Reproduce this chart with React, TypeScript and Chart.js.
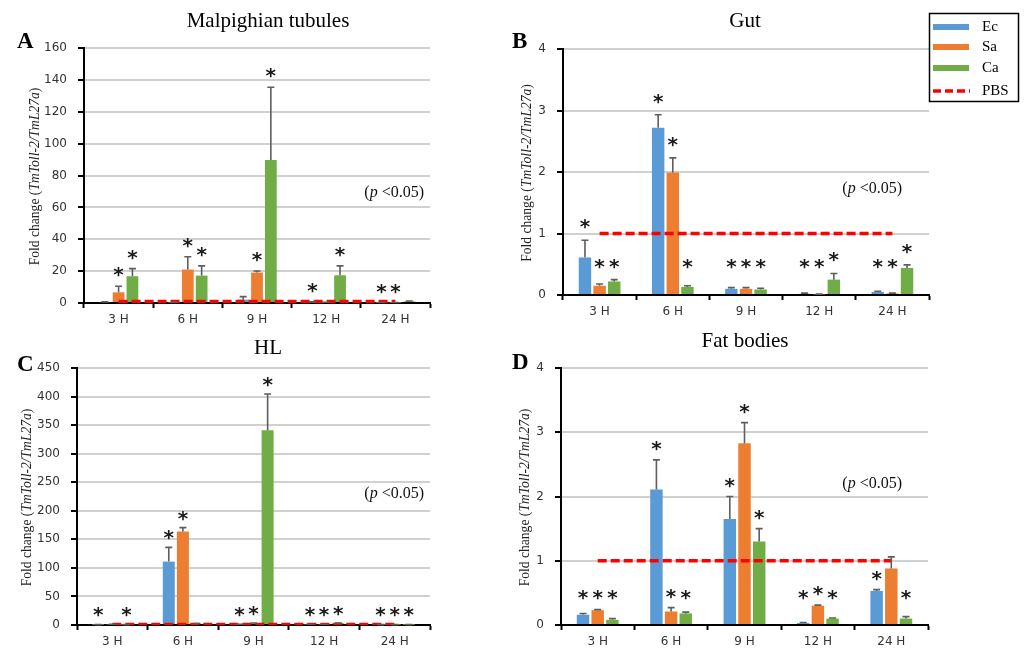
import React, { useEffect, useRef } from 'react';
import { Chart, registerables } from 'chart.js';

Chart.register(...registerables);

// ---------- data ----------
const categories = ['3 H', '6 H', '9 H', '12 H', '24 H'];
const seriesNames = ['Ec', 'Sa', 'Ca'];
const controlName = 'PBS';
const controlLevel = [1, 1, 1, 1, 1];

// A: Malpighian tubules
const mtEc = [0.5, 0.3, 2.1, 0.5, 0.2];
const mtEcErr = [0.2, 0.1, 1.9, 0.2, 0.1];
const mtEcSig = [0, 0, 0, 1, 1];
const mtSa = [6.7, 21, 19.1, 0.4, 0.2];
const mtSaErr = [3.8, 8, 1.0, 0.1, 0.1];
const mtSaSig = [1, 1, 1, 0, 1];
const mtCa = [16.8, 17.2, 89.7, 17.4, 1.0];
const mtCaErr = [4.8, 6.1, 45.7, 5.9, 0.3];
const mtCaSig = [1, 1, 1, 1, 0];

// B: Gut
const gutEc = [0.61, 2.72, 0.1, 0.02, 0.05];
const gutEcErr = [0.28, 0.21, 0.02, 0.01, 0.01];
const gutEcSig = [1, 1, 1, 1, 1];
const gutSa = [0.15, 1.99, 0.1, 0.01, 0.025];
const gutSaErr = [0.03, 0.24, 0.02, 0.005, 0.005];
const gutSaSig = [1, 1, 1, 1, 1];
const gutCa = [0.22, 0.13, 0.09, 0.25, 0.44];
const gutCaErr = [0.03, 0.02, 0.02, 0.1, 0.05];
const gutCaSig = [1, 1, 1, 1, 1];

// C: HL
const hlEc = [0.5, 111, 1, 1, 0.5];
const hlEcErr = [0.2, 25, 0.3, 0.3, 0.2];
const hlEcSig = [1, 1, 1, 1, 1];
const hlSa = [1, 163.5, 3, 1, 0.5];
const hlSaErr = [0.3, 7, 0.5, 0.3, 0.2];
const hlSaSig = [0, 1, 1, 1, 1];
const hlCa = [0.5, 2, 341, 3, 0.5];
const hlCaErr = [0.2, 0.5, 63.5, 0.5, 0.2];
const hlCaSig = [1, 0, 1, 1, 1];

// D: Fat bodies
const fbEc = [0.16, 2.11, 1.65, 0.03, 0.53];
const fbEcErr = [0.02, 0.46, 0.35, 0.01, 0.02];
const fbEcSig = [1, 1, 1, 1, 1];
const fbSa = [0.23, 0.21, 2.83, 0.3, 0.88];
const fbSaErr = [0.01, 0.06, 0.32, 0.01, 0.18];
const fbSaSig = [1, 1, 1, 1, 0];
const fbCa = [0.08, 0.18, 1.3, 0.1, 0.1];
const fbCaErr = [0.02, 0.02, 0.2, 0.01, 0.03];
const fbCaSig = [1, 1, 1, 1, 1];

const yTitleParts = [
  { text: 'Fold change (', italic: false },
  { text: 'TmToll-2/TmL27a', italic: true },
  { text: ')', italic: false },
];

// ---------- styles ----------
const COLORS = ['#5B9BD5', '#ED7D31', '#70AD47'];
const RED = '#FF0000';
const SERIF = '"Liberation Serif", "Times New Roman", serif';
const SANS = '"DejaVu Sans", sans-serif';
const W = 512;
const H = 326;
const XH = 23;

const panels = [
  {
    letter: 'A', title: 'Malpighian tubules', left: 0, top: 0,
    area: { l: 84, t: 48, r: 430, b: 303 }, yMax: 160, yStep: 20,
    series: [[mtEc, mtEcErr, mtEcSig], [mtSa, mtSaErr, mtSaSig], [mtCa, mtCaErr, mtCaSig]],
    yTitleX: 35, letterPos: { x: 17, y: 48 }, titlePos: { x: 268, y: 27 }, notePos: { x: 424, y: 197 },
    starGap: 14, starMin: 12, legend: false,
  },
  {
    letter: 'B', title: 'Gut', left: 512, top: 0,
    area: { l: 51, t: 49, r: 417, b: 295 }, yMax: 4, yStep: 1,
    series: [[gutEc, gutEcErr, gutEcSig], [gutSa, gutSaErr, gutSaSig], [gutCa, gutCaErr, gutCaSig]],
    yTitleX: 15, letterPos: { x: 0, y: 48 }, titlePos: { x: 233, y: 27 }, notePos: { x: 390, y: 193 },
    starGap: 16, starMin: 31, legend: true,
  },
  {
    letter: 'C', title: 'HL', left: 0, top: 326,
    area: { l: 77, t: 42, r: 430, b: 299 }, yMax: 450, yStep: 50,
    series: [[hlEc, hlEcErr, hlEcSig], [hlSa, hlSaErr, hlSaSig], [hlCa, hlCaErr, hlCaSig]],
    yTitleX: 27, letterPos: { x: 17, y: 45 }, titlePos: { x: 268, y: 28 }, notePos: { x: 424, y: 172 },
    starGap: 12, starMin: 13, legend: false,
  },
  {
    letter: 'D', title: 'Fat bodies', left: 512, top: 326,
    area: { l: 49, t: 42, r: 416, b: 299 }, yMax: 4, yStep: 1,
    series: [[fbEc, fbEcErr, fbEcSig], [fbSa, fbSaErr, fbSaSig], [fbCa, fbCaErr, fbCaSig]],
    yTitleX: 13, letterPos: { x: 0, y: 43 }, titlePos: { x: 233, y: 21 }, notePos: { x: 390, y: 162 },
    starGap: 14, starMin: 30, legend: false,
  },
];

function drawSegments(ctx: CanvasRenderingContext2D, parts: any[], size: number, x: number, y: number, align: 'center' | 'right') {
  const fontFor = (p: any) => `${p.italic ? 'italic ' : ''}${size}px ${SERIF}`;
  let total = 0;
  const widths = parts.map((p) => {
    ctx.font = fontFor(p);
    const w = ctx.measureText(p.text).width;
    total += w;
    return w;
  });
  let pos = align === 'center' ? x - total / 2 : x - total;
  ctx.textAlign = 'left';
  parts.forEach((p, i) => {
    ctx.font = fontFor(p);
    ctx.fillText(p.text, pos, y);
    pos += widths[i];
  });
}

function makeOverlay(cfg: any) {
  return {
    id: 'overlay' + cfg.letter,
    afterDatasetsDraw(chart: any) {
      const ctx: CanvasRenderingContext2D = chart.ctx;
      const ys = chart.scales.y;
      const zero = ys.getPixelForValue(0);
      ctx.save();
      // error bars
      chart.data.datasets.forEach((ds: any, i: number) => {
        if (!ds.errors) return;
        const meta = chart.getDatasetMeta(i);
        meta.data.forEach((bar: any, j: number) => {
          const v = ds.data[j];
          const top = ys.getPixelForValue(v + ds.errors[j]);
          ctx.strokeStyle = '#5e5e5e';
          ctx.lineWidth = 1.6;
          ctx.beginPath();
          ctx.moveTo(bar.x, bar.y);
          ctx.lineTo(bar.x, top);
          ctx.moveTo(bar.x - 3.5, top);
          ctx.lineTo(bar.x + 3.5, top);
          ctx.stroke();
        });
      });
      // significance stars
      ctx.fillStyle = '#1a1a1a';
      ctx.font = `bold 20px ${SANS}`;
      ctx.textAlign = 'center';
      ctx.textBaseline = 'alphabetic';
      const m = ctx.measureText('*');
      const mid = (m.actualBoundingBoxAscent - m.actualBoundingBoxDescent) / 2;
      chart.data.datasets.forEach((ds: any, i: number) => {
        if (!ds.stars) return;
        const meta = chart.getDatasetMeta(i);
        meta.data.forEach((bar: any, j: number) => {
          if (!ds.stars[j]) return;
          const top = ys.getPixelForValue(ds.data[j] + ds.errors[j]);
          const sy = Math.min(top - cfg.starGap, zero - cfg.starMin);
          ctx.fillText('*', bar.x, sy + mid);
        });
      });
      ctx.restore();
    },
    afterDraw(chart: any) {
      const ctx: CanvasRenderingContext2D = chart.ctx;
      const area = chart.chartArea;
      ctx.save();
      ctx.fillStyle = '#000';
      ctx.textBaseline = 'alphabetic';
      // title
      ctx.font = `21px ${SERIF}`;
      ctx.textAlign = 'center';
      ctx.fillText(cfg.title, cfg.titlePos.x, cfg.titlePos.y);
      // panel letter
      ctx.font = `bold 23px ${SERIF}`;
      ctx.textAlign = 'left';
      ctx.fillText(cfg.letter, cfg.letterPos.x, cfg.letterPos.y);
      // p note
      ctx.fillStyle = '#111';
      drawSegments(ctx, [
        { text: '(', italic: false },
        { text: 'p', italic: true },
        { text: ' <0.05)', italic: false },
      ], 16, cfg.notePos.x, cfg.notePos.y, 'right');
      // y title
      ctx.save();
      ctx.translate(cfg.yTitleX, (area.top + area.bottom) / 2 + 1);
      ctx.rotate(-Math.PI / 2);
      ctx.textBaseline = 'middle';
      ctx.fillStyle = '#222';
      drawSegments(ctx, yTitleParts, 13.6, 0, 0, 'center');
      ctx.restore();
      // legend
      if (cfg.legend) {
        ctx.strokeStyle = '#000';
        ctx.lineWidth = 1.5;
        ctx.strokeRect(417.5, 13.5, 89, 88);
        const rows = [27, 47, 68, 91];
        ctx.font = `15px ${SERIF}`;
        ctx.textBaseline = 'middle';
        ctx.fillStyle = '#000';
        seriesNames.forEach((n, i) => {
          ctx.fillStyle = COLORS[i];
          ctx.fillRect(421, rows[i] - 3, 36, 6);
          ctx.fillStyle = '#000';
          ctx.fillText(n, 470, rows[i]);
        });
        ctx.strokeStyle = RED;
        ctx.lineWidth = 3.5;
        ctx.setLineDash([8, 4]);
        ctx.beginPath();
        ctx.moveTo(421, rows[3]);
        ctx.lineTo(458, rows[3]);
        ctx.stroke();
        ctx.setLineDash([]);
        ctx.fillText(controlName, 470, rows[3]);
      }
      ctx.restore();
    },
  };
}

function Panel({ cfg }: { cfg: any }) {
  const ref = useRef<HTMLCanvasElement>(null);
  useEffect(() => {
    if (!ref.current) return;
    const a = cfg.area;
    const datasets: any[] = [
      {
        type: 'line', label: controlName, data: controlLevel, borderColor: RED, borderWidth: 3.5,
        borderDash: [9, 4], pointRadius: 0, fill: false, order: 0, tension: 0,
      },
      ...cfg.series.map((s: any[], i: number) => ({
        type: 'bar', label: seriesNames[i], data: s[0], errors: s[1], stars: s[2],
        backgroundColor: COLORS[i], borderWidth: 0, order: 1,
        categoryPercentage: 0.6, barPercentage: 0.85,
      })),
    ];
    const chart = new Chart(ref.current, {
      type: 'bar',
      data: { labels: categories, datasets },
      options: {
        responsive: false,
        animation: false,
        layout: { padding: { left: 0, top: a.t, right: W - a.r, bottom: H - a.b - XH } },
        plugins: { legend: { display: false }, tooltip: { enabled: false }, title: { display: false } },
        scales: {
          x: {
            grid: { display: true, drawOnChartArea: false, drawTicks: true, tickLength: 5, tickColor: '#000', tickWidth: 2, offset: true },
            border: { display: true, color: '#000', width: 2 },
            ticks: { font: { family: SANS, size: 12 }, color: '#333', padding: 5, autoSkip: false, maxRotation: 0 },
            afterFit: (s: any) => { s.height = XH; },
          },
          y: {
            min: 0, max: cfg.yMax,
            ticks: { stepSize: cfg.yStep, font: { family: SANS, size: 12 }, color: '#333', padding: 11 },
            grid: { color: '#d0d0d0', lineWidth: 2, tickLength: 6, tickColor: '#000', tickWidth: 2, drawTicks: true },
            border: { display: true, color: '#000', width: 2 },
            afterFit: (s: any) => { s.width = a.l; },
          },
        },
      } as any,
      plugins: [makeOverlay(cfg)],
    } as any);
    return () => chart.destroy();
  }, []);
  return (
    <canvas
      ref={ref}
      width={W}
      height={H}
      style={{ position: 'absolute', left: cfg.left, top: cfg.top, width: W, height: H }}
    />
  );
}

export default function App() {
  return (
    <div style={{ position: 'fixed', left: 0, top: 0, width: 1024, height: 652, background: '#fff' }}>
      {panels.map((p) => (
        <Panel key={p.letter} cfg={p} />
      ))}
    </div>
  );
}
